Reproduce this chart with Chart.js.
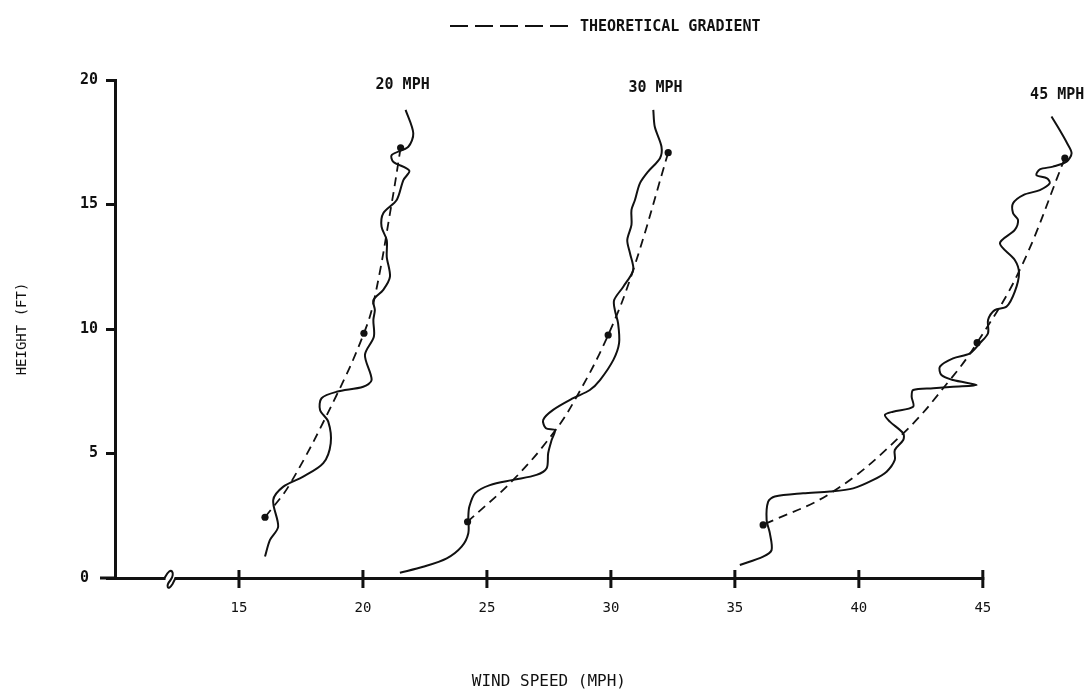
<!DOCTYPE html>
<html>
<head>
<meta charset="utf-8">
<title>Wind speed profiles</title>
<script src="https://cdn.jsdelivr.net/npm/chart.js@4.4.1/dist/chart.umd.min.js"></script>
<style>
  html, body { margin: 0; padding: 0; background: #fff; }
  #wrap { width: 1092px; height: 695px; position: relative; }
</style>
</head>
<body>
<div id="wrap"><canvas id="chart"></canvas></div>
<script>
// ---- Measured profiles (wind speed mph, height ft), traced top -> bottom ----
var profile20Speed = [21.72, 22.03, 21.83, 21.16, 21.22, 21.87, 21.63, 21.36, 20.82, 20.75, 20.96, 20.96,
  21.09, 20.82, 20.42, 20.48, 20.42, 20.44, 20.08, 20.35, 20.01, 18.94, 18.33, 18.27, 18.60, 18.70,
  18.40, 17.59, 16.79, 16.38, 16.58, 16.25, 16.05];
var profile20Height = [18.80, 17.86, 17.32, 16.99, 16.72, 16.36, 15.98, 15.18, 14.65, 14.11, 13.57, 12.90,
  12.10, 11.57, 11.16, 10.76, 10.36, 9.69, 8.96, 7.95, 7.68, 7.48, 7.22, 6.75, 6.28, 5.41,
  4.61, 4.07, 3.67, 3.13, 2.06, 1.53, 0.86];

var profile30Speed = [31.71, 31.77, 32.04, 31.98, 31.50, 31.17, 30.97, 30.83, 30.83, 30.66, 30.77, 30.90,
  30.50, 30.13, 30.16, 30.29, 30.33, 30.10, 29.56, 29.15, 28.48, 27.67, 27.27, 27.38, 27.74, 27.61,
  27.47, 27.41, 27.00, 26.06, 25.12, 24.52, 24.29, 24.25, 24.25, 23.98, 23.38, 22.43, 21.49];
var profile30Height = [18.80, 18.12, 17.32, 16.86, 16.32, 15.85, 15.18, 14.78, 14.18, 13.57, 13.04, 12.37,
  11.70, 11.16, 10.76, 10.23, 9.43, 8.76, 7.95, 7.55, 7.22, 6.75, 6.35, 6.01, 5.94, 5.54,
  5.01, 4.41, 4.14, 3.94, 3.73, 3.40, 2.86, 2.46, 1.80, 1.26, 0.79, 0.45, 0.21];

var profile45Speed = [47.77, 48.10, 48.40, 48.58, 48.38, 47.83, 47.30, 47.16, 47.59, 47.70, 47.30, 46.63,
  46.22, 46.22, 46.42, 46.29, 45.69, 46.29, 46.46, 46.29, 45.96, 45.48, 45.21, 45.21, 44.88, 44.48,
  43.80, 43.27, 43.33, 43.80, 44.75, 43.80, 43.00, 42.19, 42.13, 42.19, 41.38, 41.05, 41.25, 41.79,
  41.79, 41.45, 41.45, 41.12, 40.58, 39.77, 38.83, 37.75, 36.61, 36.34, 36.28, 36.41, 36.48, 36.14, 35.20];
var profile45Height = [18.53, 17.99, 17.46, 17.06, 16.72, 16.52, 16.41, 16.18, 16.05, 15.85, 15.58, 15.38,
  15.05, 14.65, 14.38, 13.98, 13.44, 12.77, 12.24, 11.50, 10.90, 10.76, 10.36, 9.83, 9.43, 9.02,
  8.82, 8.49, 8.15, 7.95, 7.75, 7.68, 7.62, 7.55, 7.28, 6.88, 6.68, 6.55, 6.28, 5.81,
  5.54, 5.14, 4.74, 4.27, 3.94, 3.60, 3.47, 3.40, 3.27, 3.06, 2.33, 1.80, 1.12, 0.86, 0.52];

// ---- Theoretical gradient curves (dashed), top -> bottom ----
var theory20Speed = [21.52, 21.16, 20.48, 20.04, 18.94, 17.06, 16.05];
var theory20Height = [17.28, 15.05, 11.30, 9.83, 7.35, 3.78, 2.44];
var theory30Speed = [32.31, 30.90, 29.89, 28.62, 27.67, 26.06, 24.22];
var theory30Height = [17.08, 12.37, 9.76, 7.28, 5.81, 3.94, 2.26];
var theory45Speed = [48.31, 46.49, 44.77, 43.67, 41.79, 38.96, 36.14];
var theory45Height = [16.86, 12.37, 9.45, 7.95, 5.81, 3.47, 2.13];

// ---- Marked points on the theoretical curves ----
var dots20Speed = [16.05, 20.04, 21.52];
var dots20Height = [2.44, 9.83, 17.28];
var dots30Speed = [24.22, 29.89, 32.31];
var dots30Height = [2.26, 9.76, 17.08];
var dots45Speed = [36.14, 44.77, 48.31];
var dots45Height = [2.13, 9.45, 16.86];

// ---- Series labels ----
var seriesNames = ['20 MPH', '30 MPH', '45 MPH'];
var labelSpeed = [21.6, 31.8, 48.0];
var labelHeight = [19.8, 19.66, 19.4];

// ---- Axes ----
var speedTicks = [15, 20, 25, 30, 35, 40, 45];
var heightTicks = [0, 5, 10, 15, 20];
var speedMin = 10;
var speedAxisEnd = 45;
var axisBreakAt = 12.2;
var xTitle = 'WIND SPEED (MPH)';
var yTitle = 'HEIGHT (FT)';
var legendText = 'THEORETICAL GRADIENT';

var MONO = "'DejaVu Sans Mono', 'Liberation Mono', monospace";
var INK = '#111';

function points(xs, ys) {
  var out = [];
  for (var i = 0; i < xs.length; i++) out.push({ x: xs[i], y: ys[i] });
  return out;
}

function measured(xs, ys) {
  return {
    label: 'Measured',
    data: points(xs, ys),
    showLine: true,
    borderColor: INK,
    borderWidth: 2,
    tension: 0.3,
    pointRadius: 0,
    clip: false
  };
}

function theory(xs, ys) {
  return {
    label: legendText,
    data: points(xs, ys),
    showLine: true,
    borderColor: INK,
    borderWidth: 1.8,
    borderDash: [9, 6],
    tension: 0.4,
    pointRadius: 0,
    clip: false
  };
}

function dots(xs, ys) {
  return {
    label: 'Points',
    data: points(xs, ys),
    showLine: false,
    pointRadius: 3.6,
    pointBackgroundColor: INK,
    pointBorderWidth: 0,
    clip: false
  };
}

// ---- Trim the x axis line at 45 (scale runs a bit further for the 45 mph curve) ----
var trimAxisPlugin = {
  id: 'trimAxis',
  beforeDatasetsDraw: function (chart) {
    var xs = chart.scales.x;
    var area = chart.chartArea;
    var ctx = chart.ctx;
    var end = xs.getPixelForValue(speedAxisEnd);
    ctx.save();
    ctx.fillStyle = '#fff';
    ctx.fillRect(end + 1.5, area.bottom - 4, area.right - end + 4, 8);
    ctx.restore();
  }
};

// ---- Extras: axis extension + break, crossing ticks, labels, legend ----
var extrasPlugin = {
  id: 'extras',
  afterDraw: function (chart) {
    var ctx = chart.ctx;
    var xs = chart.scales.x;
    var ys = chart.scales.y;
    var area = chart.chartArea;
    var y0 = ys.getPixelForValue(0);

    ctx.save();
    ctx.strokeStyle = INK;
    ctx.lineCap = 'butt';

    // x axis runs a little left of the y axis
    ctx.lineWidth = 3;
    ctx.beginPath();
    ctx.moveTo(area.left - 15, y0);
    ctx.lineTo(area.left, y0);
    ctx.stroke();

    // axis break squiggle
    var bx = xs.getPixelForValue(axisBreakAt);
    ctx.fillStyle = '#fff';
    ctx.fillRect(bx - 4, y0 - 3, 9, 6);
    ctx.lineWidth = 2;
    ctx.beginPath();
    ctx.moveTo(bx - 5, y0);
    ctx.bezierCurveTo(bx + 2, y0 - 14, bx + 6, y0 - 4, bx + 1, y0 + 2);
    ctx.bezierCurveTo(bx - 4, y0 + 8, bx - 2, y0 + 14, bx + 3, y0 + 6);
    ctx.lineTo(bx + 6, y0);
    ctx.stroke();

    // x ticks crossing the axis
    ctx.lineWidth = 3;
    xs.ticks.forEach(function (t) {
      var px = xs.getPixelForValue(t.value);
      ctx.beginPath();
      ctx.moveTo(px, y0 - 8);
      ctx.lineTo(px, y0 + 10);
      ctx.stroke();
    });

    // x axis title, centred under the drawn part of the axis
    ctx.fillStyle = INK;
    ctx.font = '16px ' + MONO;
    ctx.textAlign = 'center';
    ctx.textBaseline = 'middle';
    ctx.fillText(xTitle, (xs.getPixelForValue(speedMin) + xs.getPixelForValue(speedAxisEnd)) / 2, 682);

    // series labels
    ctx.font = 'bold 15px ' + MONO;
    for (var i = 0; i < seriesNames.length; i++) {
      ctx.fillText(seriesNames[i], xs.getPixelForValue(labelSpeed[i]), ys.getPixelForValue(labelHeight[i]));
    }

    // legend: dashed sample + text
    var dash = chart.data.datasets[1];
    ctx.lineWidth = dash.borderWidth;
    ctx.setLineDash([18, 7]);
    ctx.beginPath();
    ctx.moveTo(450, 26);
    ctx.lineTo(570, 26);
    ctx.stroke();
    ctx.setLineDash([]);
    ctx.font = 'bold 15px ' + MONO;
    ctx.textAlign = 'left';
    ctx.fillText(dash.label, 580, 27);

    ctx.restore();
  }
};

new Chart(document.getElementById('chart'), {
  type: 'scatter',
  data: {
    datasets: [
      measured(profile20Speed, profile20Height),
      theory(theory20Speed, theory20Height),
      dots(dots20Speed, dots20Height),
      measured(profile30Speed, profile30Height),
      theory(theory30Speed, theory30Height),
      dots(dots30Speed, dots30Height),
      measured(profile45Speed, profile45Height),
      theory(theory45Speed, theory45Height),
      dots(dots45Speed, dots45Height)
    ]
  },
  options: {
    responsive: true,
    maintainAspectRatio: false,
    animation: false,
    layout: { padding: { top: 80, right: 10, left: 0, bottom: 0 } },
    plugins: {
      legend: { display: false },
      tooltip: { enabled: false }
    },
    scales: {
      x: {
        type: 'linear',
        min: speedMin,
        max: 49,
        afterBuildTicks: function (scale) {
          scale.ticks = speedTicks.map(function (v) { return { value: v }; });
        },
        afterFit: function (scale) { scale.height = 117; },
        grid: { display: false, drawTicks: false },
        border: { display: true, color: INK, width: 3 },
        ticks: {
          padding: 22,
          color: INK,
          font: { family: MONO, size: 14 },
          maxRotation: 0
        }
      },
      y: {
        type: 'linear',
        min: 0,
        max: 20,
        afterBuildTicks: function (scale) {
          scale.ticks = heightTicks.map(function (v) { return { value: v }; });
        },
        afterFit: function (scale) { scale.width = 115; },
        grid: {
          display: true,
          drawOnChartArea: false,
          drawTicks: true,
          tickLength: 9,
          color: INK,
          lineWidth: 3
        },
        border: { display: true, color: INK, width: 3 },
        ticks: {
          padding: 8,
          color: INK,
          font: { family: MONO, size: 15, weight: 'bold' },
          callback: function (v) { return v === 0 ? '0 ' : String(v); }
        },
        title: {
          display: true,
          text: yTitle,
          color: INK,
          font: { family: MONO, size: 14 },
          padding: { top: 14, bottom: 0 }
        }
      }
    }
  },
  plugins: [trimAxisPlugin, extrasPlugin]
});
</script>
</body>
</html>
